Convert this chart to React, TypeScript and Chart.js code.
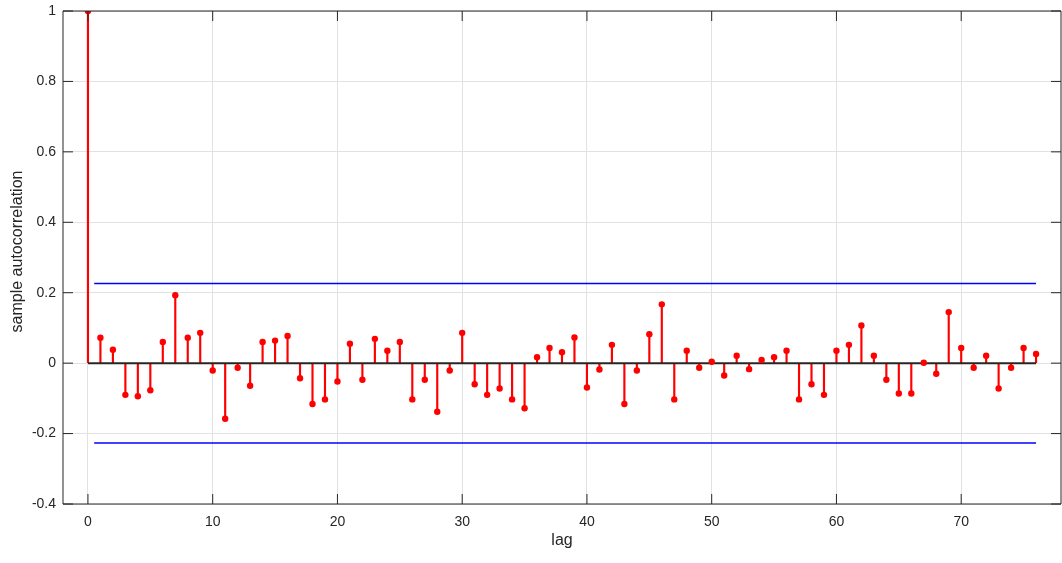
import { useEffect, useRef } from 'react';
import { Chart, registerables } from 'chart.js';

Chart.register(...registerables);

// ---- data ----
const lags = [
  0, 1, 2, 3, 4, 5, 6, 7, 8, 9, 10, 11, 12, 13, 14, 15, 16, 17, 18, 19,
  20, 21, 22, 23, 24, 25, 26, 27, 28, 29, 30, 31, 32, 33, 34, 35, 36, 37, 38, 39,
  40, 41, 42, 43, 44, 45, 46, 47, 48, 49, 50, 51, 52, 53, 54, 55, 56, 57, 58, 59,
  60, 61, 62, 63, 64, 65, 66, 67, 68, 69, 70, 71, 72, 73, 74, 75, 76,
];

const acf = [
  1, 0.072, 0.038, -0.09, -0.094, -0.077, 0.06, 0.193, 0.072, 0.086,
  -0.021, -0.158, -0.013, -0.064, 0.06, 0.064, 0.077, -0.043, -0.116, -0.103,
  -0.052, 0.055, -0.047, 0.069, 0.035, 0.06, -0.103, -0.047, -0.138, -0.021,
  0.086, -0.06, -0.09, -0.072, -0.103, -0.128, 0.017, 0.043, 0.031, 0.073,
  -0.069, -0.018, 0.052, -0.116, -0.021, 0.082, 0.167, -0.103, 0.035, -0.013,
  0.004, -0.035, 0.021, -0.017, 0.009, 0.017, 0.035, -0.103, -0.06, -0.09,
  0.035, 0.052, 0.107, 0.021, -0.047, -0.086, -0.086, 0.001, -0.03, 0.145,
  0.043, -0.013, 0.021, -0.072, -0.013, 0.043, 0.026,
];

const boundLags = [0.5, 76];
const upperBound = [0.2265, 0.2265];
const lowerBound = [-0.2265, -0.2265];

const baseLags = [0, 76];
const baseValues = [0, 0];

const xTicks = [0, 10, 20, 30, 40, 50, 60, 70];
const yTicks = [-0.4, -0.2, 0, 0.2, 0.4, 0.6, 0.8, 1];

const xLabel = 'lag';
const yLabel = 'sample autocorrelation';

// ---- style ----
const FONT = '"Liberation Sans", Arial, Helvetica, sans-serif';
const TEXT = '#262626';
const GRID = '#e2e2e2';

const pts = (xs: number[], ys: number[]) => xs.map((x, i) => ({ x, y: ys[i] }));

const framePlugin = {
  id: 'matlabFrame',
  afterDraw(chart: any) {
    const { ctx, chartArea: a, scales } = chart;
    const L = 10;
    ctx.save();
    ctx.strokeStyle = TEXT;
    ctx.lineWidth = 1;
    ctx.beginPath();
    ctx.rect(a.left, a.top, a.right - a.left, a.bottom - a.top);
    scales.x.ticks.forEach((t: any) => {
      const px = scales.x.getPixelForValue(t.value);
      ctx.moveTo(px, a.bottom);
      ctx.lineTo(px, a.bottom - L);
      ctx.moveTo(px, a.top);
      ctx.lineTo(px, a.top + L);
    });
    scales.y.ticks.forEach((t: any) => {
      const py = scales.y.getPixelForValue(t.value);
      ctx.moveTo(a.left, py);
      ctx.lineTo(a.left + L, py);
      ctx.moveTo(a.right, py);
      ctx.lineTo(a.right - L, py);
    });
    ctx.stroke();

    ctx.fillStyle = TEXT;
    ctx.font = `16px ${FONT}`;
    ctx.textAlign = 'center';
    ctx.textBaseline = 'alphabetic';
    ctx.fillText(xLabel, (a.left + a.right) / 2, 545);

    ctx.translate(22, (a.top + a.bottom) / 2 - 6);
    ctx.rotate(-Math.PI / 2);
    ctx.textBaseline = 'alphabetic';
    ctx.fillText(yLabel, 0, 0);
    ctx.restore();
  },
};

export default function App() {
  const ref = useRef<HTMLCanvasElement>(null);

  useEffect(() => {
    const chart = new Chart(ref.current as HTMLCanvasElement, {
      type: 'bar',
      data: {
        datasets: [
          {
            type: 'scatter',
            data: pts(lags, acf),
            showLine: false,
            pointRadius: 3.2,
            pointBorderWidth: 0,
            pointBackgroundColor: '#ff0000',
            pointBorderColor: '#ff0000',
            order: 0,
          } as any,
          {
            type: 'line',
            data: pts(baseLags, baseValues),
            borderColor: TEXT,
            borderWidth: 2,
            pointRadius: 0,
            order: 1,
          } as any,
          {
            type: 'bar',
            data: pts(lags, acf),
            backgroundColor: '#ff0000',
            borderWidth: 0,
            barThickness: 1.5,
            order: 2,
          } as any,
          {
            type: 'line',
            data: pts(boundLags, upperBound),
            borderColor: '#0000ff',
            borderWidth: 1.5,
            pointRadius: 0,
            order: 3,
          } as any,
          {
            type: 'line',
            data: pts(boundLags, lowerBound),
            borderColor: '#0000ff',
            borderWidth: 1.5,
            pointRadius: 0,
            order: 3,
          } as any,
        ],
      },
      options: {
        responsive: false,
        devicePixelRatio: 1,
        animation: false,
        layout: { autoPadding: false, padding: { left: 0, top: 11, right: 1, bottom: 0 } },
        plugins: {
          legend: { display: false },
          tooltip: { enabled: false },
        },
        scales: {
          x: {
            type: 'linear',
            min: -2,
            max: 78,
            offset: false,
            grid: { color: GRID, lineWidth: 1, drawTicks: false, offset: false },
            border: { display: false },
            ticks: {
              padding: 10,
              color: TEXT,
              font: { family: FONT, size: 14 },
              callback: (v: any) => String(v),
            },
            afterBuildTicks: (s: any) => {
              s.ticks = xTicks.map((v) => ({ value: v }));
            },
            afterFit: (s: any) => {
              s.height = 59;
              s.paddingLeft = 0;
              s.paddingRight = 0;
              s.paddingTop = 0;
              s.paddingBottom = 0;
            },
          },
          y: {
            type: 'linear',
            min: -0.4,
            max: 1,
            grid: { color: GRID, lineWidth: 1, drawTicks: false },
            border: { display: false },
            ticks: {
              padding: 7,
              color: TEXT,
              font: { family: FONT, size: 14 },
              callback: (v: any) => String(Math.round(Number(v) * 10) / 10),
            },
            afterBuildTicks: (s: any) => {
              s.ticks = yTicks.map((v) => ({ value: v }));
            },
            afterFit: (s: any) => {
              s.width = 63;
              s.paddingLeft = 0;
              s.paddingRight = 0;
              s.paddingTop = 0;
              s.paddingBottom = 0;
            },
          },
        },
      } as any,
      plugins: [framePlugin],
    });
    return () => chart.destroy();
  }, []);

  return (
    <div style={{ position: 'absolute', left: 0, top: 0, width: 1062, height: 563, background: '#fff' }}>
      <canvas ref={ref} width={1062} height={563} style={{ display: 'block' }} />
    </div>
  );
}
